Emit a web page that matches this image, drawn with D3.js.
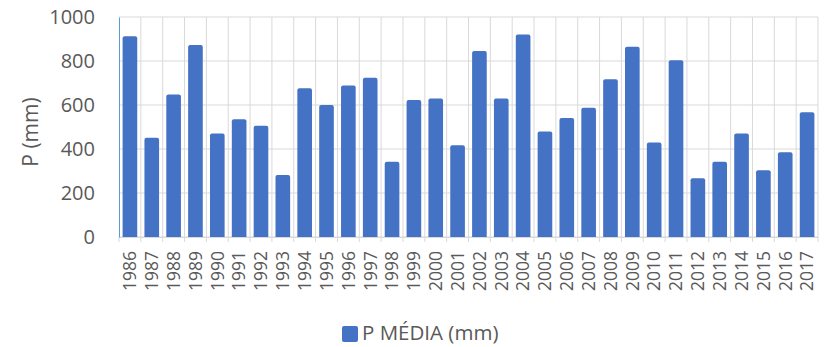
<!DOCTYPE html>
<html><head><meta charset="utf-8">
<script src="https://cdn.jsdelivr.net/npm/d3@7"></script>
<style>body{margin:0;background:#fff}text{font-family:"Open Sans",sans-serif;fill:#595959}</style>
</head><body><svg id="c" width="827" height="347"></svg>
<script>
const years = ["1986","1987","1988","1989","1990","1991","1992","1993","1994","1995","1996","1997","1998","1999","2000","2001","2002","2003","2004","2005","2006","2007","2008","2009","2010","2011","2012","2013","2014","2015","2016","2017"];
const pMedia = [912,451,648,873,471,535,506,282,676,600,689,724,342,623,629,417,845,629,921,479,541,588,717,865,430,803,267,342,471,303,385,567];
const yTicks = [0,200,400,600,800,1000];
const seriesName = "P MÉDIA (mm)";
const yTitle = "P (mm)";

const svg = d3.select("#c");
const L=119, R=818, T=17, B=237;
const x = d3.scaleBand().domain(years).range([L,R]).paddingInner(0.33).paddingOuter(0.165);
const xb = d3.scaleBand().domain(years).range([L,R]);
const y = d3.scaleLinear().domain([0,1000]).range([B,T]);

// horizontal gridlines
svg.append("g").selectAll("line").data(yTicks).join("line")
  .attr("x1",L).attr("x2",R).attr("y1",d=>y(d)).attr("y2",d=>y(d))
  .attr("stroke","#d9d9d9").attr("stroke-width",1);
// vertical gridlines at category boundaries
svg.append("g").selectAll("line").data(years).join("line")
  .attr("x1",d=>xb(d)+xb.step()).attr("x2",d=>xb(d)+xb.step())
  .attr("y1",T).attr("y2",B+5).attr("stroke","#d9d9d9");

// bars with rounded tops
const r=2;
svg.append("g").selectAll("path").data(years).join("path")
  .attr("fill","#4472C4")
  .attr("d",(d,i)=>{const x0=x(d),w=x.bandwidth(),y0=y(pMedia[i]);
    return `M${x0},${B}V${y0+r}Q${x0},${y0} ${x0+r},${y0}H${x0+w-r}Q${x0+w},${y0} ${x0+w},${y0+r}V${B}Z`;});

// x axis
const xAxis = svg.append("g").attr("transform",`translate(0,${B})`)
  .call(d3.axisBottom(xb).tickSize(0).tickPadding(0));
xAxis.select(".domain").attr("stroke","#d9d9d9");
xAxis.selectAll("text").attr("transform","rotate(-90)").attr("text-anchor","end")
  .attr("x",-14).attr("y",0).attr("dy","0.36em").style("font-size","17.5px").attr("fill","#595959");
svg.append("line").attr("x1",L).attr("x2",L).attr("y1",B).attr("y2",B+5).attr("stroke","#d9d9d9");

// y axis
const yAxis = svg.append("g").attr("transform",`translate(${L},0)`)
  .call(d3.axisLeft(y).tickValues(yTicks).tickFormat(d3.format("d")).tickSize(0).tickPadding(24));
yAxis.select(".domain").attr("stroke","#5b9bd5");
yAxis.selectAll("text").style("font-size","20px").attr("fill","#595959");

svg.append("text").attr("transform",`translate(31,${(T+B)/2+5}) rotate(-90)`)
  .attr("text-anchor","middle").attr("dy","0.35em").style("font-size","21px").text(yTitle);

// legend
const lg = svg.append("g").attr("transform","translate(342,326)");
lg.append("rect").attr("width",16).attr("height",16).attr("rx",2).attr("fill","#4472C4");
lg.append("text").attr("x",20).attr("y",7.5).attr("dy","0.32em").style("font-size","20.5px").text(seriesName);
</script></body></html>
